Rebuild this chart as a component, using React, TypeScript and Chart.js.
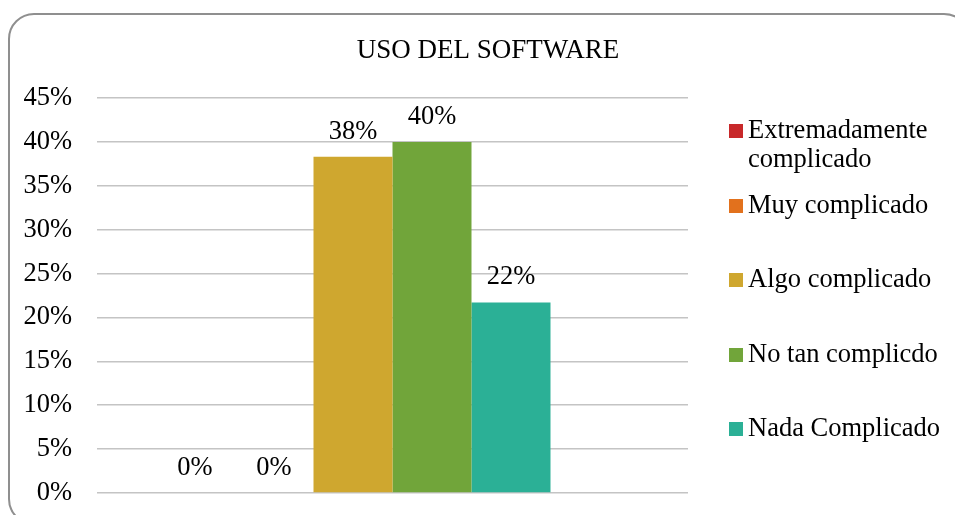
import React, { useEffect, useRef } from "react";
import { Chart, registerables } from "chart.js";

Chart.register(...registerables);

const chartTitle = "USO DEL SOFTWARE";
const categories = [""];
const seriesNames = [
  "Extremadamente complicado",
  "Muy complicado",
  "Algo complicado",
  "No tan complicdo",
  "Nada Complicado",
  "",
];
const seriesValues = [0, 0, 38.3, 40, 21.7, null];
const seriesColors = ["#C8282A", "#E2711D", "#CFA72F", "#71A53A", "#2BB096", "#ffffff"];
const yTicks = [0, 5, 10, 15, 20, 25, 30, 35, 40, 45];

const FONT = "'Times New Roman', 'Liberation Serif', serif";
const FS = 26.5;

const legendItemY = [131, 206, 280, 355, 429];

const titlePlugin = {
  id: "customTitle",
  afterDraw(chart: any) {
    const ctx = chart.ctx;
    ctx.save();
    ctx.font = `27px ${FONT}`;
    ctx.fillStyle = "#000";
    ctx.textAlign = "center";
    ctx.textBaseline = "middle";
    ctx.fillText(chartTitle, 488, 51);
    ctx.restore();
  },
};

const dataLabelPlugin = {
  id: "dataLabels",
  afterDatasetsDraw(chart: any) {
    const ctx = chart.ctx;
    ctx.save();
    ctx.font = `${FS}px ${FONT}`;
    ctx.fillStyle = "#000";
    ctx.textAlign = "center";
    ctx.textBaseline = "middle";
    chart.data.datasets.forEach((ds: any, i: number) => {
      const meta = chart.getDatasetMeta(i);
      meta.data.forEach((el: any, j: number) => {
        const v = ds.data[j];
        if (v === null || v === undefined) return;
        ctx.fillText(`${Math.round(v)}%`, el.x, el.y - 25);
      });
    });
    ctx.restore();
  },
};

const customLegendPlugin = {
  id: "customLegend",
  afterDraw(chart: any) {
    const ctx = chart.ctx;
    ctx.save();
    ctx.font = `${FS}px ${FONT}`;
    ctx.textBaseline = "middle";
    ctx.textAlign = "left";
    const boxX = 729;
    const textX = 748;
    const maxW = 205;
    const lineH = 29;
    let k = 0;
    chart.data.datasets.forEach((ds: any) => {
      if (!ds.label) return;
      const y = legendItemY[k++];
      ctx.fillStyle = ds.backgroundColor;
      ctx.fillRect(boxX, y - 7, 14, 14);
      const words = ds.label.split(" ");
      const lines: string[] = [];
      let cur = "";
      words.forEach((w: string) => {
        const test = cur ? cur + " " + w : w;
        if (ctx.measureText(test).width > maxW && cur) {
          lines.push(cur);
          cur = w;
        } else cur = test;
      });
      if (cur) lines.push(cur);
      ctx.fillStyle = "#000";
      lines.forEach((ln, li) => ctx.fillText(ln, textX, y + li * lineH));
    });
    ctx.restore();
  },
};

export default function App() {
  const ref = useRef<HTMLCanvasElement>(null);
  useEffect(() => {
    if (!ref.current) return;
    const chart = new Chart(ref.current, {
      type: "bar",
      data: {
        labels: categories,
        datasets: seriesNames.map((name, i) => ({
          label: name,
          data: [seriesValues[i]],
          backgroundColor: seriesColors[i],
          borderWidth: 0,
          categoryPercentage: 0.802,
          barPercentage: 1,
        })),
      },
      options: {
        animation: false,
        responsive: false,
        maintainAspectRatio: false,
        layout: { padding: { top: 98, left: 0, right: 287, bottom: 22 } },
        plugins: {
          legend: { display: false },
          tooltip: { enabled: false },
          title: { display: false },
        },
        scales: {
          x: { display: false },
          y: {
            min: 0,
            max: 45,
            afterBuildTicks(scale: any) {
              scale.ticks = yTicks.map((v) => ({ value: v }));
            },
            afterFit(scale: any) {
              scale.width = 97;
            },
            border: { display: false },
            grid: {
              color: "#c4c4c4",
              lineWidth: 1.6,
              drawTicks: true,
              tickLength: 25,
              tickColor: "rgba(0,0,0,0)",
            },
            ticks: {
              padding: 0,
              color: "#000",
              font: { family: FONT, size: FS },
              callback: (v: any) => `${v}%`,
            },
          },
        },
      },
      plugins: [dataLabelPlugin, customLegendPlugin, titlePlugin],
    } as any);
    return () => chart.destroy();
  }, []);

  return (
    <div style={{ position: "fixed", inset: 0, overflow: "hidden", background: "#fff" }}>
      <div
        style={{
          position: "absolute",
          left: 8,
          top: 13,
          width: 962,
          height: 512,
          border: "2px solid #8f8f8f",
          borderRadius: 26,
          boxSizing: "border-box",
        }}
      />
      <canvas
        ref={ref}
        width={975}
        height={515}
        style={{ position: "absolute", left: 0, top: 0, width: 975, height: 515 }}
      />
    </div>
  );
}
